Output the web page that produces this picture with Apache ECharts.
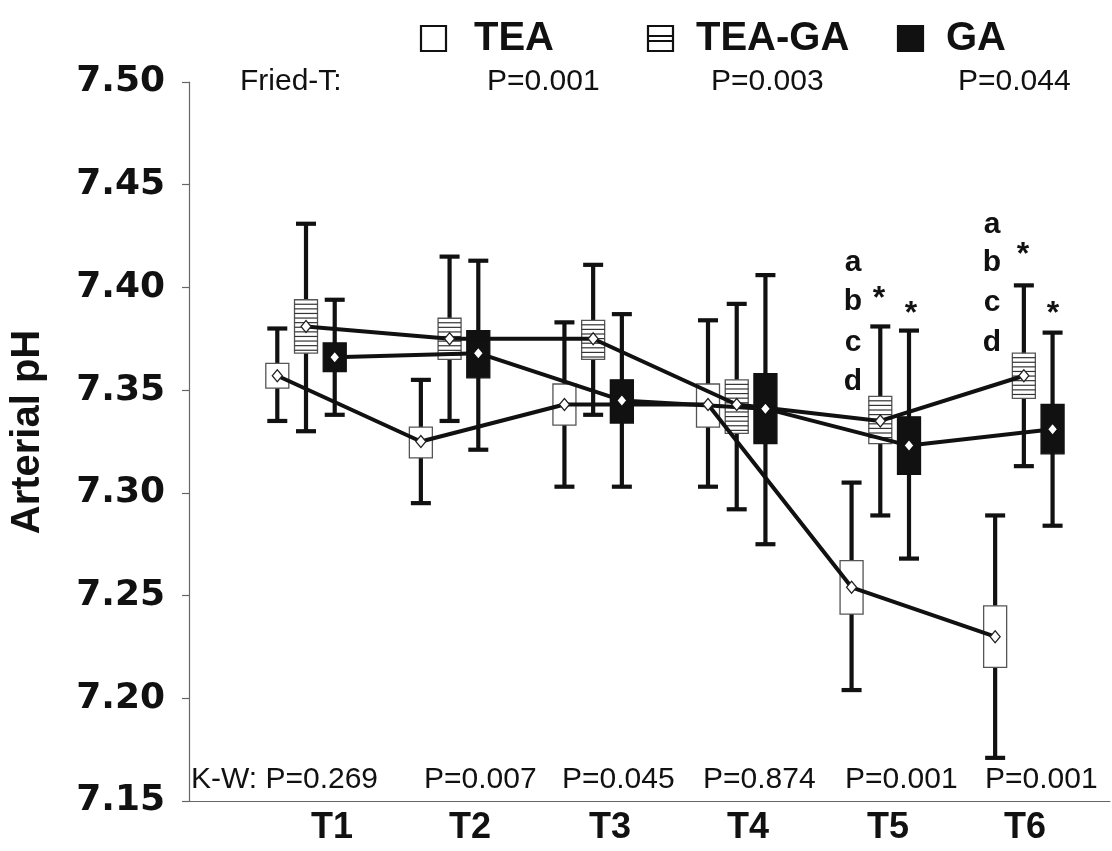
<!DOCTYPE html>
<html>
<head>
<meta charset="utf-8">
<script src="https://cdn.jsdelivr.net/npm/echarts/dist/echarts.min.js"></script>
<style>
html,body{margin:0;padding:0;background:#fff;}
#chart{width:1112px;height:851px;}
</style>
</head>
<body>
<div id="chart"></div>
<script>
// ---------------- data ----------------
const categories = ['T1', 'T2', 'T3', 'T4', 'T5', 'T6'];
const groupNames = ['TEA', 'TEA-GA', 'GA'];
const yTicks = [7.15, 7.20, 7.25, 7.30, 7.35, 7.40, 7.45, 7.50];

// TEA
const teaMean      = [7.357, 7.325, 7.343, 7.343, 7.254, 7.230];
const teaBoxLow    = [7.351, 7.317, 7.333, 7.332, 7.241, 7.215];
const teaBoxHigh   = [7.363, 7.332, 7.353, 7.353, 7.267, 7.245];
const teaWhiskLow  = [7.335, 7.295, 7.303, 7.303, 7.204, 7.171];
const teaWhiskHigh = [7.380, 7.355, 7.383, 7.384, 7.305, 7.289];
// TEA-GA
const teagaMean      = [7.381, 7.375, 7.375, 7.343, 7.335, 7.357];
const teagaBoxLow    = [7.368, 7.365, 7.365, 7.329, 7.324, 7.346];
const teagaBoxHigh   = [7.394, 7.385, 7.384, 7.355, 7.347, 7.368];
const teagaWhiskLow  = [7.330, 7.335, 7.338, 7.292, 7.289, 7.313];
const teagaWhiskHigh = [7.431, 7.415, 7.411, 7.392, 7.381, 7.401];
// GA
const gaMean      = [7.366, 7.368, 7.345, 7.341, 7.323, 7.331];
const gaBoxLow    = [7.359, 7.356, 7.334, 7.324, 7.309, 7.319];
const gaBoxHigh   = [7.373, 7.379, 7.355, 7.358, 7.337, 7.343];
const gaWhiskLow  = [7.338, 7.321, 7.303, 7.275, 7.268, 7.284];
const gaWhiskHigh = [7.394, 7.413, 7.387, 7.406, 7.379, 7.378];

const kwLabels = ['K-W: P=0.269', 'P=0.007', 'P=0.045', 'P=0.874', 'P=0.001', 'P=0.001'];
const friedLabels = ['Fried-T:', 'P=0.001', 'P=0.003', 'P=0.044'];
const sigLetters = ['a', 'b', 'c', 'd'];

// ---------------- layout / style ----------------
const groupOffset = [-0.2, 0, 0.2];
const BOX_W = 23, CAP_W = 20, WHISK_LW = 4.2;

function buildBoxData(gi, wl, bl, bh, wh) {
  return categories.map((c, i) => [i + 1 + groupOffset[gi], wl[i], bl[i], bh[i], wh[i]]);
}
function buildMeanData(gi, m) {
  return categories.map((c, i) => [i + 1 + groupOffset[gi], m[i]]);
}

function makeRender(kind) {
  return function (params, api) {
    const xv = api.value(0);
    const pWL = api.coord([xv, api.value(1)]);
    const pBL = api.coord([xv, api.value(2)]);
    const pBH = api.coord([xv, api.value(3)]);
    const pWH = api.coord([xv, api.value(4)]);
    const x = pWL[0];
    const ls = { stroke: '#111', lineWidth: WHISK_LW };
    const children = [
      { type: 'line', shape: { x1: x, y1: pWH[1], x2: x, y2: pWL[1] }, style: ls },
      { type: 'line', shape: { x1: x - CAP_W / 2, y1: pWH[1], x2: x + CAP_W / 2, y2: pWH[1] }, style: ls },
      { type: 'line', shape: { x1: x - CAP_W / 2, y1: pWL[1], x2: x + CAP_W / 2, y2: pWL[1] }, style: ls },
      { type: 'rect', shape: { x: x - BOX_W / 2, y: pBH[1], width: BOX_W, height: pBL[1] - pBH[1] },
        style: { fill: kind === 'GA' ? '#111' : '#fff', stroke: kind === 'GA' ? '#111' : '#555', lineWidth: 1.3 } }
    ];
    if (kind === 'TEA-GA') {
      for (let yy = pBH[1] + 4.5; yy < pBL[1] - 1.5; yy += 4.6) {
        children.push({ type: 'line', shape: { x1: x - BOX_W / 2, y1: yy, x2: x + BOX_W / 2, y2: yy },
          style: { stroke: '#333', lineWidth: 1.2 } });
      }
    }
    return { type: 'group', children };
  };
}

const boxSets = [
  buildBoxData(0, teaWhiskLow, teaBoxLow, teaBoxHigh, teaWhiskHigh),
  buildBoxData(1, teagaWhiskLow, teagaBoxLow, teagaBoxHigh, teagaWhiskHigh),
  buildBoxData(2, gaWhiskLow, gaBoxLow, gaBoxHigh, gaWhiskHigh)
];
const meanSets = [
  buildMeanData(0, teaMean),
  buildMeanData(1, teagaMean),
  buildMeanData(2, gaMean)
];

const series = [];
groupNames.forEach((g, gi) => {
  series.push({
    name: g, type: 'custom', renderItem: makeRender(g), data: boxSets[gi],
    encode: { x: 0, y: [1, 2, 3, 4] }, z: 2, silent: true
  });
});
groupNames.forEach((g, gi) => {
  series.push({
    name: g + ' mean', type: 'line', data: meanSets[gi], z: 5,
    symbol: 'diamond', symbolSize: [10, 12], showSymbol: true,
    lineStyle: { color: '#111', width: 4 },
    itemStyle: { color: '#fff', borderColor: gi === 2 ? '#111' : '#222', borderWidth: 1.3 },
    animation: false
  });
});

const FONT = "'Liberation Sans', Arial, sans-serif";
const graphics = [];
// y-axis title
graphics.push({ type: 'text', x: 28, y: 432, rotation: Math.PI / 2,
  style: { text: 'Arterial pH', font: 'bold 40px ' + FONT, fill: '#111', align: 'center', verticalAlign: 'middle' } });
// legend
const legendIconX = [421, 648, 898];
const legendTextX = [474, 696, 946];
groupNames.forEach((g, gi) => {
  const ix = legendIconX[gi], iy = 26, s = 25;
  graphics.push({ type: 'rect', shape: { x: ix, y: iy, width: s, height: s },
    style: { fill: gi === 2 ? '#111' : '#fff', stroke: '#111', lineWidth: 2.2 } });
  if (gi === 1) {
    graphics.push({ type: 'line', shape: { x1: ix, y1: iy + s / 2 - 2.5, x2: ix + s, y2: iy + s / 2 - 2.5 }, style: { stroke: '#111', lineWidth: 2 } });
    graphics.push({ type: 'line', shape: { x1: ix, y1: iy + s / 2 + 2.5, x2: ix + s, y2: iy + s / 2 + 2.5 }, style: { stroke: '#111', lineWidth: 2 } });
  }
  graphics.push({ type: 'text', x: legendTextX[gi], y: 39,
    style: { text: g, font: 'bold 40px ' + FONT, fill: '#111', verticalAlign: 'middle' } });
});
// Fried-T row
const friedX = [240, 487, 711, 958];
friedLabels.forEach((t, i) => graphics.push({ type: 'text', x: friedX[i], y: 82,
  style: { text: t, font: '30px ' + FONT, fill: '#111', verticalAlign: 'middle' } }));
// K-W row
const kwX = [191, 424, 562, 703, 845, 985];
kwLabels.forEach((t, i) => graphics.push({ type: 'text', x: kwX[i], y: 780,
  style: { text: t, font: '30px ' + FONT, fill: '#111', verticalAlign: 'middle' } }));
// category labels
const catX = [332, 470, 610, 748, 888, 1025];
categories.forEach((t, i) => graphics.push({ type: 'text', x: catX[i], y: 828,
  style: { text: t, font: 'bold 36px ' + FONT, fill: '#111', align: 'center', verticalAlign: 'middle' } }));
// significance letters
const letterCols = [{ x: 853, y: [263, 302, 343, 382] }, { x: 992, y: [225, 263, 303, 343] }];
letterCols.forEach(col => sigLetters.forEach((l, k) => graphics.push({ type: 'text', x: col.x, y: col.y[k],
  style: { text: l, font: 'bold 30px ' + FONT, fill: '#111', align: 'center', verticalAlign: 'middle' } })));
const stars = [[879, 292], [911, 307], [1023, 248], [1053, 307]];
stars.forEach(p => graphics.push({ type: 'text', x: p[0], y: p[1] + 7,
  style: { text: '*', font: 'bold 32px ' + FONT, fill: '#111', align: 'center', verticalAlign: 'middle' } }));

const chart = echarts.init(document.getElementById('chart'), null, { renderer: 'canvas' });
chart.setOption({
  animation: false,
  backgroundColor: '#fff',
  grid: { left: 189, right: 2, top: 82, bottom: 50, containLabel: false },
  xAxis: {
    type: 'value', min: 0.185, max: 6.6,
    axisLine: { show: true, lineStyle: { color: '#666', width: 1.2 } },
    axisTick: { show: false }, axisLabel: { show: false }, splitLine: { show: false }
  },
  yAxis: {
    type: 'value', min: yTicks[0], max: yTicks[yTicks.length - 1], interval: 0.05,
    axisLine: { show: true, lineStyle: { color: '#666', width: 1.2 } },
    axisTick: { show: true, inside: false, length: 7, lineStyle: { color: '#666', width: 1.2 } },
    axisLabel: { formatter: v => v.toFixed(2), margin: 24, color: '#111',
      fontFamily: "'DejaVu Sans', sans-serif", fontWeight: 'bold', fontSize: 36 },
    splitLine: { show: false }
  },
  series: series,
  graphic: graphics
});
</script>
</body>
</html>
